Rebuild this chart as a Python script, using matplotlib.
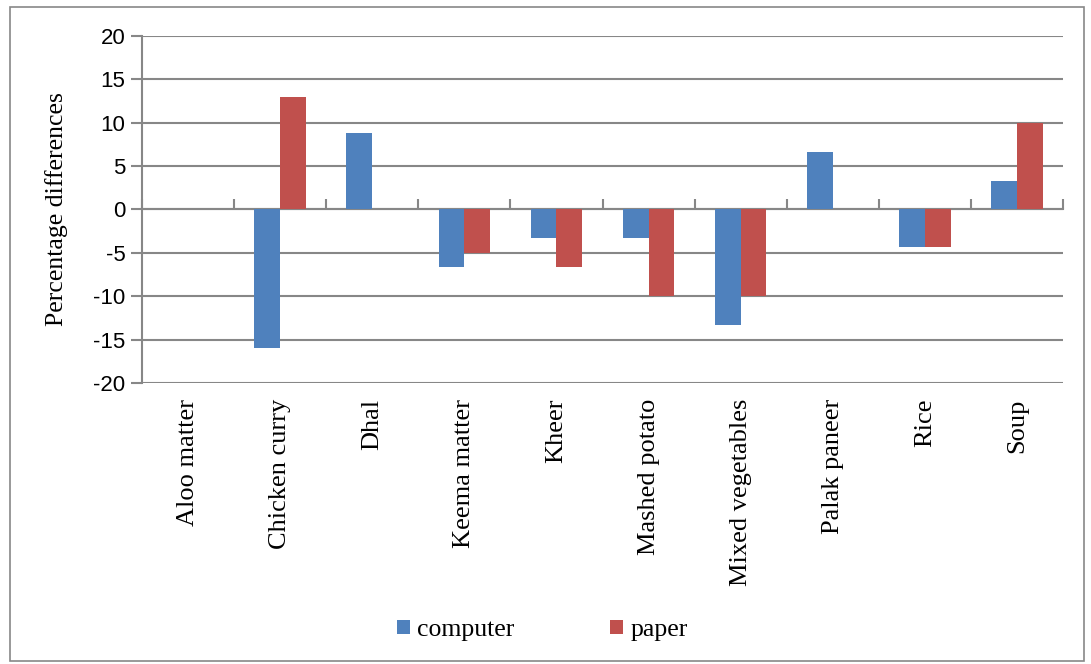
import numpy as np
import matplotlib.pyplot as plt
from matplotlib.patches import Rectangle

foods = ['Aloo matter', 'Chicken curry', 'Dhal', 'Keema matter', 'Kheer',
         'Mashed potato', 'Mixed vegetables', 'Palak paneer', 'Rice', 'Soup']
computer = [0, -16, 8.8, -6.6, -3.3, -3.3, -13.3, 6.6, -4.3, 3.3]
paper = [0, 13, 0, -5, -6.6, -10, -10, 0, -4.3, 10]

serif = 'Liberation Serif'
grey = '#878787'
plt.rcParams['axes.unicode_minus'] = False

fig = plt.figure(figsize=(10.91, 6.64), dpi=100)
ax = fig.add_axes([0.1302, 0.4232, 0.8441, 0.5226])

x = np.arange(len(foods))
w = 0.28
ax.bar(x - w/2, computer, w, color='#4F81BD', linewidth=0, label='computer', zorder=3)
ax.bar(x + w/2, paper, w, color='#C0504D', linewidth=0, label='paper', zorder=3)

ax.set_xlim(-0.5, len(foods) - 0.5)
ax.set_ylim(-20, 20)
ax.set_yticks(np.arange(-20, 21, 5))
ax.yaxis.grid(True, color=grey, linewidth=1.5)
ax.set_axisbelow(True)

# horizontal axis sits at zero, ticks on category boundaries
for s in ['top', 'right']:
    ax.spines[s].set_visible(False)
ax.spines['bottom'].set_position(('data', 0))
ax.spines['bottom'].set_color(grey)
ax.spines['bottom'].set_linewidth(1.5)
ax.spines['left'].set_color(grey)
ax.spines['left'].set_linewidth(1.5)
ax.set_xticks(np.arange(-0.5, len(foods), 1))
ax.set_xticklabels([])
ax.tick_params(axis='x', direction='in', length=7, width=1.5, color=grey)
ax.tick_params(axis='y', direction='out', length=8, width=1.5, color=grey,
               labelsize=16, pad=4)
for lab in ax.get_yticklabels():
    lab.set_family('Liberation Sans')

for i, name in enumerate(foods):
    ax.text(i, -0.045, name, transform=ax.get_xaxis_transform(), rotation=90,
            ha='center', va='top', fontsize=19, family=serif)

ax.set_ylabel('Percentage differences', fontsize=18.5, family=serif, labelpad=18)

fig.legend(loc='center', bbox_to_anchor=(0.497, 0.051), ncol=2, frameon=False,
           prop={'family': serif, 'size': 18.5}, handlelength=0.5, handleheight=0.5,
           handletextpad=0.3, columnspacing=3.7)

fig.patches.append(Rectangle((0.009, 0.005), 0.985, 0.984, transform=fig.transFigure,
                             fill=False, edgecolor=grey, linewidth=1.2))

fig.savefig('out.png', dpi=100)
